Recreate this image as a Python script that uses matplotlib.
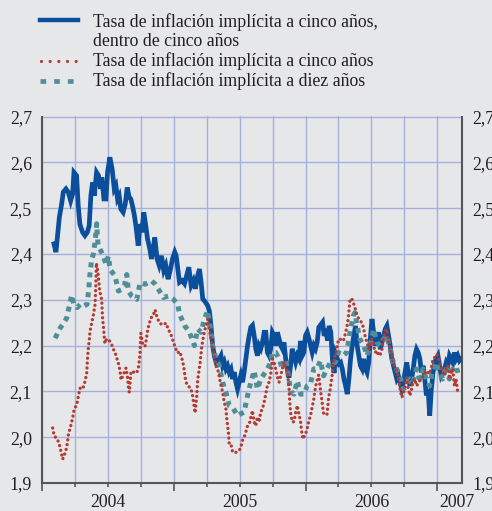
import matplotlib.pyplot as plt
from matplotlib.lines import Line2D

# meses transcurridos desde enero de 2004 (0 = 1 ene 2004)
mes_5a5 = [1.09, 1.27, 1.42, 1.58, 1.79, 1.94, 2.18, 2.39, 2.61, 2.79, 2.91, 3.15, 3.30, 3.45,
           3.70, 3.91, 4.12, 4.30, 4.45, 4.61, 4.76, 4.97, 5.15, 5.33, 5.45, 5.64, 5.82, 5.97,
           6.18, 6.39, 6.58, 6.73, 6.88, 7.03, 7.18, 7.39, 7.58, 7.76, 7.94, 8.09, 8.24, 8.39,
           8.55, 8.76, 8.91, 9.09, 9.27, 9.45, 9.61, 9.82, 9.97, 10.12, 10.27, 10.48, 10.67,
           10.88, 11.09, 11.27, 11.48, 11.70, 11.88, 12.09, 12.22, 12.52, 12.76, 12.98, 13.13,
           13.37, 13.58, 13.79, 13.97, 14.18, 14.34, 14.49, 14.64, 14.88, 15.09, 15.24, 15.39,
           15.54, 15.69, 15.85, 16.00, 16.15, 16.30, 16.45, 16.60, 16.75, 16.90, 17.05, 17.21,
           17.36, 17.51, 17.66, 17.81, 17.96, 18.11, 18.26, 18.41, 18.56, 18.72, 18.87, 19.02,
           19.17, 19.32, 19.47, 19.62, 19.77, 19.92, 20.08, 20.23, 20.38, 20.53, 20.68, 20.83,
           20.98, 21.13, 21.28, 21.44, 21.59, 21.74, 21.89, 22.04, 22.19, 22.34, 22.49, 22.64,
           22.79, 22.95, 23.10, 23.25, 23.40, 23.55, 23.70, 23.85, 24.00, 24.15, 24.31, 24.46,
           24.61, 24.76, 24.91, 25.06, 25.21, 25.55, 25.70, 25.85, 26.00, 26.15, 26.30, 26.45,
           26.60, 26.75, 26.90, 27.05, 27.20, 27.35, 27.50, 27.65, 27.80, 27.95, 28.10, 28.25,
           28.40, 28.55, 28.70, 28.85, 29.00, 29.15, 29.30, 29.45, 29.60, 29.75, 29.90, 30.05,
           30.20, 30.35, 30.50, 30.66, 30.81, 30.96, 31.11, 31.26, 31.41, 31.56, 31.71, 31.86,
           32.01, 32.16, 32.31, 32.46, 32.61, 32.76, 32.91, 33.06, 33.21, 33.36, 33.51, 33.66,
           33.81, 33.96, 34.11, 34.26, 34.41, 34.56, 34.71, 34.86, 35.01, 35.16, 35.31, 35.46,
           35.61, 35.76, 35.91, 36.06, 36.21, 36.36, 36.51, 36.66, 36.81, 36.96, 37.11, 37.26,
           37.41, 37.56, 37.71, 37.86, 38.01, 38.16]
tasa_5a5 = [2.422, 2.404, 2.440, 2.480, 2.509, 2.535, 2.542, 2.535, 2.516, 2.531, 2.578, 2.571,
            2.505, 2.465, 2.447, 2.440, 2.447, 2.462, 2.527, 2.556, 2.527, 2.578, 2.571, 2.542,
            2.567, 2.520, 2.520, 2.578, 2.611, 2.585, 2.542, 2.549, 2.520, 2.527, 2.498, 2.491,
            2.509, 2.545, 2.524, 2.520, 2.505, 2.487, 2.462, 2.418, 2.465, 2.447, 2.491, 2.462,
            2.433, 2.411, 2.389, 2.411, 2.436, 2.389, 2.375, 2.396, 2.364, 2.375, 2.345, 2.367,
            2.389, 2.404, 2.396, 2.338, 2.342, 2.335, 2.349, 2.371, 2.331, 2.342, 2.324, 2.353,
            2.367, 2.338, 2.302, 2.295, 2.287, 2.276, 2.244, 2.200, 2.178, 2.164, 2.171, 2.171,
            2.178, 2.156, 2.164, 2.149, 2.156, 2.142, 2.149, 2.127, 2.142, 2.120, 2.105, 2.120,
            2.135, 2.120, 2.142, 2.171, 2.200, 2.222, 2.240, 2.244, 2.222, 2.193, 2.178, 2.200,
            2.193, 2.207, 2.229, 2.229, 2.185, 2.178, 2.193, 2.229, 2.222, 2.200, 2.229, 2.215,
            2.200, 2.193, 2.207, 2.171, 2.149, 2.130, 2.156, 2.193, 2.178, 2.164, 2.178, 2.171,
            2.210, 2.178, 2.185, 2.222, 2.229, 2.215, 2.200, 2.185, 2.200, 2.193, 2.207, 2.240,
            2.251, 2.221, 2.236, 2.211, 2.243, 2.229, 2.170, 2.140, 2.181, 2.171, 2.160, 2.163,
            2.149, 2.127, 2.112, 2.094, 2.127, 2.171, 2.200, 2.221, 2.243, 2.200, 2.178, 2.156,
            2.149, 2.171, 2.149, 2.141, 2.163, 2.214, 2.258, 2.229, 2.200, 2.214, 2.229, 2.192,
            2.207, 2.221, 2.236, 2.243, 2.221, 2.200, 2.171, 2.156, 2.141, 2.127, 2.134, 2.120,
            2.105, 2.120, 2.141, 2.163, 2.141, 2.112, 2.127, 2.149, 2.178, 2.192, 2.185, 2.171,
            2.141, 2.156, 2.127, 2.091, 2.105, 2.047, 2.105, 2.141, 2.163, 2.171, 2.178, 2.156,
            2.134, 2.141, 2.149, 2.163, 2.156, 2.178, 2.171, 2.163, 2.185, 2.171, 2.178, 2.167,
            2.171]

mes_5a = [0.97, 1.12, 1.34, 1.55, 1.73, 1.88, 2.16, 2.31, 2.40, 2.61, 2.79, 2.92, 3.16, 3.31,
          3.46, 3.71, 3.92, 4.07, 4.16, 4.22, 4.31, 4.37, 4.52, 4.68, 4.83, 4.90, 4.95, 5.10,
          5.25, 5.44, 5.50, 5.59, 5.65, 5.72, 5.89, 6.04, 6.30, 6.50, 6.65, 6.95, 7.10, 7.20,
          7.40, 7.65, 7.80, 7.86, 7.95, 8.11, 8.35, 8.62, 8.78, 8.87, 8.93, 9.00, 9.17, 9.38,
          9.50, 9.63, 9.78, 9.90, 10.10, 10.30, 10.45, 10.70, 11.00, 11.30, 11.50, 11.70, 11.85,
          12.05, 12.33, 12.55, 12.82, 12.95, 13.03, 13.20, 13.33, 13.55, 13.73, 13.85, 13.94,
          14.09, 14.18, 14.30, 14.40, 14.55, 14.70, 14.85, 15.00, 15.10, 15.24, 15.39, 15.54,
          15.69, 15.85, 16.00, 16.15, 16.30, 16.45, 16.60, 16.75, 16.81, 16.90, 16.99, 17.05,
          17.21, 17.36, 17.66, 17.96, 18.11, 18.26, 18.41, 18.56, 18.72, 18.93, 19.02, 19.17,
          19.32, 19.47, 19.62, 19.77, 19.92, 20.08, 20.23, 20.38, 20.53, 20.68, 20.83, 20.98,
          21.13, 21.28, 21.44, 21.59, 21.74, 21.89, 22.04, 22.19, 22.35, 22.50, 22.56, 22.65,
          22.80, 22.95, 23.10, 23.25, 23.40, 23.55, 23.64, 23.76, 24.00, 24.15, 24.30, 24.45,
          24.60, 24.75, 24.84, 25.00, 25.20, 25.35, 25.50, 25.65, 25.95, 26.04, 26.10, 26.25,
          26.40, 26.55, 26.70, 26.85, 27.00, 27.15, 27.45, 27.75, 27.90, 27.98, 28.05, 28.20,
          28.35, 28.50, 28.65, 28.80, 28.95, 29.15, 29.30, 29.45, 29.60, 29.75, 29.90, 30.05,
          30.20, 30.35, 30.50, 30.66, 30.81, 30.96, 31.11, 31.26, 31.41, 31.56, 31.71, 31.86,
          32.01, 32.16, 32.31, 32.46, 32.61, 32.76, 32.91, 33.06, 33.21, 33.36, 33.51, 33.66,
          33.81, 33.96, 34.11, 34.41, 34.71, 35.01, 35.31, 35.46, 35.61, 35.76, 35.91, 36.06,
          36.21, 36.36, 36.51, 36.66, 36.81, 36.96, 37.11, 37.26, 37.41, 37.56, 37.71, 37.86]
tasa_5a = [2.020, 2.002, 1.998, 1.987, 1.969, 1.952, 1.969, 1.987, 2.005, 2.024, 2.042, 2.060,
           2.071, 2.089, 2.107, 2.105, 2.122, 2.140, 2.176, 2.195, 2.213, 2.231, 2.249, 2.267,
           2.289, 2.330, 2.380, 2.360, 2.320, 2.300, 2.264, 2.242, 2.224, 2.205, 2.214, 2.214,
           2.205, 2.192, 2.185, 2.162, 2.146, 2.125, 2.136, 2.151, 2.129, 2.112, 2.098, 2.144,
           2.142, 2.140, 2.151, 2.169, 2.187, 2.227, 2.205, 2.198, 2.213, 2.235, 2.249, 2.260,
           2.264, 2.278, 2.264, 2.249, 2.245, 2.249, 2.235, 2.227, 2.216, 2.202, 2.184, 2.187,
           2.165, 2.147, 2.131, 2.114, 2.111, 2.107, 2.089, 2.069, 2.053, 2.089, 2.125, 2.146,
           2.163, 2.198, 2.219, 2.236, 2.248, 2.258, 2.236, 2.215, 2.196, 2.178, 2.156, 2.149,
           2.131, 2.113, 2.098, 2.076, 2.062, 2.044, 2.025, 2.007, 1.985, 1.985, 1.967, 1.967,
           1.971, 1.978, 1.993, 2.000, 2.011, 2.025, 2.033, 2.044, 2.058, 2.033, 2.025, 2.044,
           2.033, 2.055, 2.062, 2.076, 2.095, 2.113, 2.120, 2.138, 2.171, 2.164, 2.149, 2.131,
           2.120, 2.135, 2.149, 2.164, 2.150, 2.145, 2.105, 2.078, 2.051, 2.033, 2.034, 2.054,
           2.069, 2.051, 2.033, 2.014, 1.996, 2.007, 2.018, 2.036, 2.047, 2.065, 2.083, 2.100,
           2.120, 2.136, 2.105, 2.078, 2.051, 2.049, 2.069, 2.087, 2.105, 2.131, 2.160, 2.178,
           2.192, 2.214, 2.214, 2.210, 2.238, 2.261, 2.283, 2.300, 2.303, 2.294, 2.283, 2.269,
           2.261, 2.254, 2.250, 2.236, 2.218, 2.207, 2.192, 2.203, 2.214, 2.200, 2.185, 2.189,
           2.178, 2.181, 2.192, 2.218, 2.232, 2.236, 2.210, 2.192, 2.178, 2.160, 2.152, 2.145,
           2.130, 2.105, 2.087, 2.094, 2.112, 2.130, 2.105, 2.091, 2.105, 2.123, 2.127, 2.112,
           2.123, 2.134, 2.145, 2.138, 2.152, 2.171, 2.174, 2.181, 2.178, 2.163, 2.149, 2.145,
           2.134, 2.149, 2.156, 2.127, 2.141, 2.149, 2.112, 2.127, 2.098]

mes_10a = [1.20, 1.60, 2.25, 2.70, 2.90, 3.20, 3.50, 3.80, 4.10, 4.25, 4.35, 4.52, 4.68, 4.85,
           4.98, 5.10, 5.28, 5.59, 5.83, 6.05, 6.20, 6.65, 6.96, 7.26, 7.50, 7.72, 7.87, 8.17,
           8.63, 8.93, 9.39, 10.00, 10.30, 10.60, 11.06, 11.50, 11.97, 12.37, 12.52, 12.98,
           13.43, 13.88, 14.18, 14.49, 14.79, 15.09, 15.39, 15.54, 15.85, 16.15, 16.45, 16.75,
           17.05, 17.36, 17.81, 18.41, 18.72, 19.02, 19.32, 19.62, 19.92, 20.23, 20.53, 20.83,
           20.98, 21.28, 21.59, 21.89, 22.20, 22.65, 22.95, 23.25, 23.55, 23.85, 24.15, 24.45,
           24.75, 25.05, 25.35, 25.65, 26.10, 26.40, 26.70, 27.00, 27.45, 27.75, 28.05, 28.35,
           28.50, 28.65, 28.95, 29.30, 29.60, 29.90, 30.20, 30.50, 30.80, 31.10, 31.40, 31.70,
           32.00, 32.30, 32.60, 32.90, 33.20, 33.50, 33.80, 34.10, 34.40, 34.70, 35.00, 35.30,
           35.60, 35.90, 36.20, 36.50, 36.80, 37.10, 37.40, 37.70, 38.00]
tasa_10a = [2.216, 2.236, 2.260, 2.310, 2.290, 2.283, 2.290, 2.286, 2.290, 2.320, 2.352, 2.388,
            2.400, 2.430, 2.466, 2.420, 2.411, 2.395, 2.377, 2.395, 2.366, 2.352, 2.319, 2.323,
            2.330, 2.355, 2.319, 2.308, 2.301, 2.337, 2.334, 2.341, 2.334, 2.323, 2.305, 2.308,
            2.301, 2.290, 2.269, 2.244, 2.229, 2.200, 2.236, 2.229, 2.258, 2.276, 2.229, 2.200,
            2.171, 2.156, 2.120, 2.098, 2.069, 2.065, 2.047, 2.055, 2.091, 2.120, 2.145, 2.105,
            2.127, 2.138, 2.149, 2.164, 2.185, 2.185, 2.171, 2.149, 2.170, 2.100, 2.094, 2.123,
            2.094, 2.094, 2.112, 2.116, 2.149, 2.149, 2.167, 2.134, 2.156, 2.167, 2.163, 2.185,
            2.178, 2.185, 2.229, 2.265, 2.272, 2.250, 2.214, 2.200, 2.178, 2.200, 2.236, 2.207,
            2.200, 2.214, 2.221, 2.192, 2.163, 2.149, 2.134, 2.105, 2.112, 2.127, 2.120, 2.149,
            2.127, 2.149, 2.127, 2.112, 2.149, 2.163, 2.141, 2.127, 2.156, 2.127, 2.149, 2.156,
            2.130]

etiquetas = ["Tasa de inflación implícita a cinco años,\ndentro de cinco años",
             "Tasa de inflación implícita a cinco años",
             "Tasa de inflación implícita a diez años"]
anios = ["2004", "2005", "2006", "2007"]
pos_anios = [6, 18, 30, 37.8]

azul = "#0b4f9c"
rojo = "#b53a31"
verde = "#4f8e99"
fondo = "#e6e7e9"
rejilla = "#a6b0dc"
eje = "#555555"
texto = "#231f20"

plt.rcParams['font.family'] = ['Liberation Serif', 'DejaVu Serif']
plt.rcParams['font.size'] = 12.8

W, H = 492, 511
fig = plt.figure(figsize=(W / 100, H / 100), dpi=100, facecolor=fondo)
ax = fig.add_axes([42 / W, 1 - 483 / H, 420 / W, (483 - 116.5) / H], facecolor=fondo)

ax.plot(mes_5a5, tasa_5a5, color=azul, lw=3.4, solid_joinstyle='miter', zorder=3)
ax.plot(mes_10a, tasa_10a, color=verde, lw=3.6, linestyle=(0, (1.0, 1.0)),
        dash_capstyle='butt', zorder=4)
ax.plot(mes_5a, tasa_5a, color=rojo, lw=2.4, linestyle=(0, (0.01, 1.45)),
        dash_capstyle='round', zorder=5)

ax.set_xlim(0, 38.25)
ax.set_ylim(1.9, 2.7)

yt = [1.9 + 0.1 * i for i in range(9)]
ax.set_yticks(yt)
ax.set_yticklabels([f"{v:.1f}".replace(".", ",") for v in yt], color=texto)
ax.tick_params(axis='y', length=0, pad=7.2, labelleft=True, labelright=True)

ax.set_xticks([0, 12, 24, 36])
ax.set_xticks([m for m in range(3, 39, 3) if m % 12 != 0], minor=True)
ax.tick_params(axis='x', which='major', length=6, width=1.2, color=eje, labelbottom=False)
ax.tick_params(axis='x', which='minor', length=3, width=1.2, color=eje)

ax.grid(True, which='both', axis='x', color=rejilla, lw=1.0)
ax.grid(True, which='major', axis='y', color=rejilla, lw=1.0)
ax.set_axisbelow(True)

for lado in ['left', 'right', 'bottom']:
    ax.spines[lado].set_color(eje)
    ax.spines[lado].set_linewidth(1.5)
ax.spines['top'].set_visible(False)

for a, x in zip(anios, pos_anios):
    ax.annotate(a, xy=(x, 0), xycoords=('data', 'axes fraction'), xytext=(0, -17.6),
                textcoords='offset points', ha='center', va='baseline', color=texto)

# leyenda dibujada a mano
def fx(px):
    return px / W

def fy(py):
    return 1 - py / H

fig.add_artist(Line2D([fx(40), fx(78)], [fy(20), fy(20)], color=azul, lw=3.2))
fig.add_artist(Line2D([fx(41), fx(78)], [fy(61.5), fy(61.5)], color=rojo, lw=2.3,
                      linestyle=(0, (0.01, 2.7)), dash_capstyle='round'))
fig.add_artist(Line2D([fx(40), fx(78)], [fy(81.5), fy(81.5)], color=verde, lw=3.4,
                      linestyle=(0, (1.2, 1.7)), dash_capstyle='butt'))

lineas = etiquetas[0].split("\n") + etiquetas[1:]
for t, py in zip(lineas, [26.7, 46, 66, 86]):
    fig.text(fx(93), fy(py), t, ha='left', va='baseline', color=texto)

fig.savefig("out.png", dpi=100, facecolor=fondo)
